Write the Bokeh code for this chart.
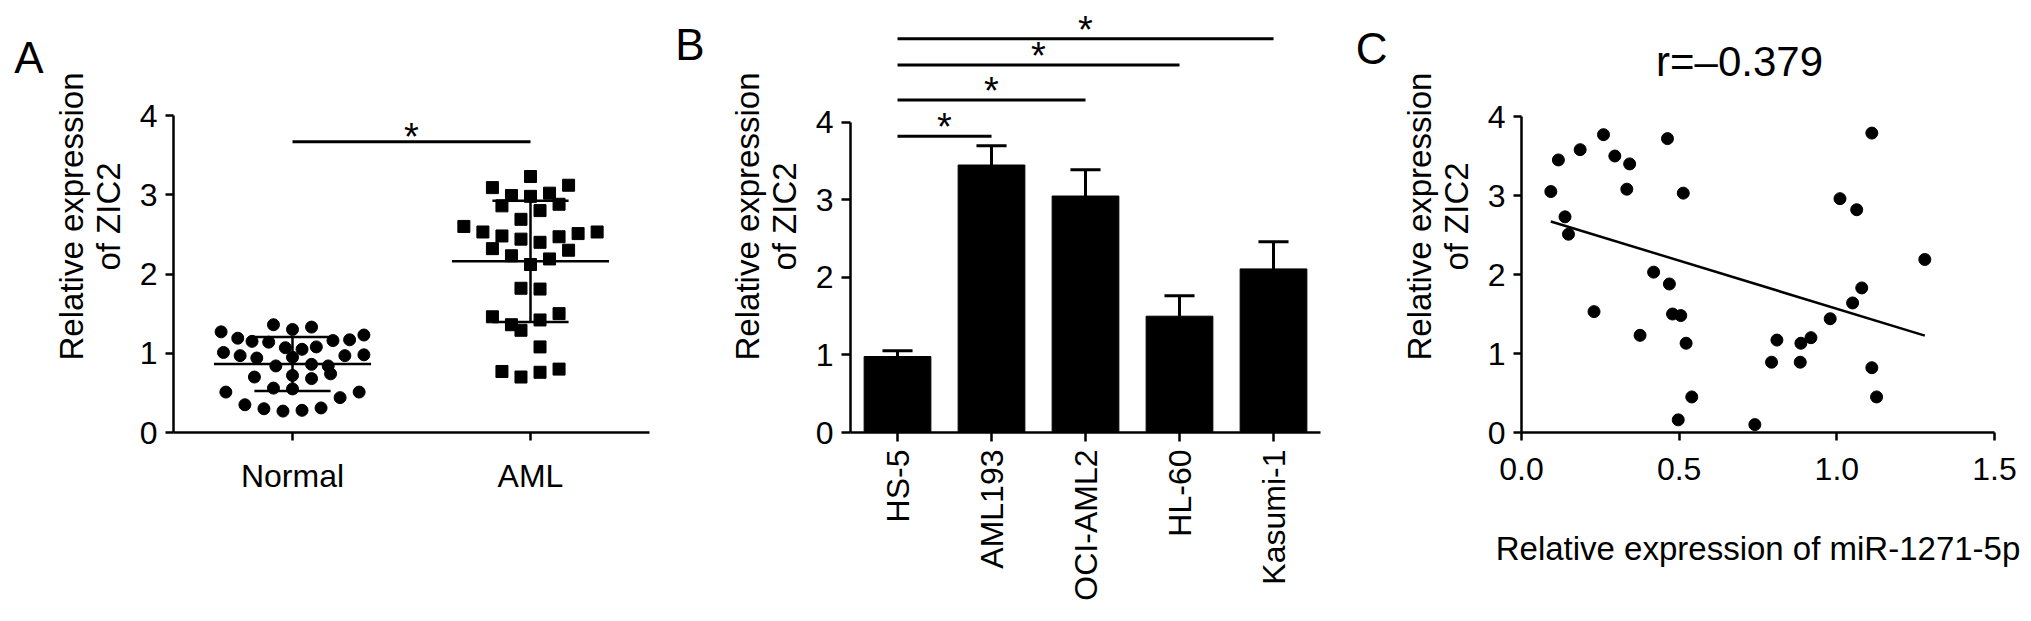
import math
import numpy as np
from bokeh.plotting import figure
from bokeh.layouts import row
from bokeh.models import Range1d, FixedTicker, Label, PrintfTickFormatter, LinearAxis
from bokeh.embed import file_html
from bokeh.resources import INLINE
from bokeh.core.properties import value

FONT = "Liberation Sans"

# ---------------- data: panel A ----------------
groups_a = ["Normal", "AML"]
normal_offset = [-0.30, -0.23, -0.17, -0.10, -0.08, 0.00, 0.08, -0.03, 0.04, 0.10, 0.17, 0.24, 0.30,
                 -0.29, -0.22, -0.15, -0.07, 0.00, 0.08, 0.15, 0.22, 0.30,
                 -0.16, 0.00, 0.08, 0.16, -0.28, -0.08, 0.00, 0.20, 0.28,
                 -0.20, -0.12, -0.04, 0.04, 0.12]
normal_value = [1.27, 1.19, 1.15, 1.14, 1.36, 1.30, 1.33, 1.07, 1.05, 1.08, 1.16, 1.17, 1.23,
                1.01, 0.97, 0.94, 0.84, 0.95, 0.86, 0.84, 0.97, 0.98,
                0.70, 0.72, 0.68, 0.74, 0.51, 0.56, 0.55, 0.44, 0.51,
                0.35, 0.30, 0.27, 0.28, 0.31]
aml_offset = [0.00, -0.16, 0.16, -0.08, 0.00, 0.08, -0.12, 0.12, 0.04, -0.04,
              -0.28, -0.20, -0.12, -0.04, 0.04, 0.12, 0.20, 0.28,
              -0.16, 0.16, -0.08, 0.08, 0.00, -0.04, 0.04,
              -0.16, 0.12, -0.08, 0.04, -0.04, 0.04,
              -0.12, -0.04, 0.04, 0.12]
aml_value = [3.23, 3.09, 3.12, 2.99, 2.98, 3.02, 2.86, 2.88, 2.80, 2.69,
             2.60, 2.53, 2.48, 2.44, 2.40, 2.47, 2.51, 2.53,
             2.32, 2.30, 2.23, 2.19, 2.12, 1.82, 1.81,
             1.46, 1.50, 1.36, 1.42, 1.29, 1.08,
             0.77, 0.70, 0.76, 0.80]
group_mean = [0.865, 2.16]
group_sd = [0.34, 0.765]
sig_a_y = 3.67

# ---------------- data: panel B ----------------
cells = ["HS-5", "AML193", "OCI-AML2", "HL-60", "Kasumi-1"]
cell_mean = [0.98, 3.45, 3.05, 1.50, 2.11]
cell_err = [0.076, 0.247, 0.34, 0.263, 0.35]
sig_b_from = [0, 0, 0, 0]
sig_b_to = [1, 2, 3, 4]
sig_b_y = [3.82, 4.29, 4.74, 5.08]

# ---------------- data: panel C ----------------
mir_x = [0.093, 0.117, 0.138, 0.149, 0.186, 0.260, 0.296, 0.343, 0.334, 0.230, 0.376, 0.419,
         0.463, 0.469, 0.479, 0.505, 0.513, 0.522, 0.540, 0.497, 0.740, 0.793, 0.810, 0.884,
         0.886, 0.918, 0.979, 1.010, 1.050, 1.063, 1.079, 1.111, 1.111, 1.126, 1.279]
zic_y = [3.05, 3.45, 2.73, 2.51, 3.58, 3.77, 3.50, 3.40, 3.08, 1.53, 1.23, 2.03,
         3.72, 1.88, 1.50, 1.48, 3.03, 1.13, 0.45, 0.16, 0.10, 0.89, 1.17, 0.89,
         1.13, 1.20, 1.44, 2.96, 1.64, 2.82, 1.83, 3.79, 0.82, 0.45, 2.19]
fit_slope = -1.219
fit_intercept = 2.785
r_text = "r=\u20130.379"

y_ticks = [0, 1, 2, 3, 4]
c_x_ticks = [0.0, 0.5, 1.0, 1.5]
y_title = "Relative expression\nof ZIC2"
c_x_title = "Relative expression of miR-1271-5p"
panel_letters = ["A", "B", "C"]

# ---------------- layout helpers ----------------
FIG_TOP = 0
FIG_H = 621


def panel(fig_left, fig_w, frame_left, frame_right, x_range, y0_px, y4_px):
    ymax = 4.0 * (y0_px - FIG_TOP) / (y0_px - y4_px)
    p = figure(width=fig_w, height=FIG_H,
               x_range=Range1d(*x_range), y_range=Range1d(0, ymax),
               min_border_left=int(round(frame_left - fig_left)),
               min_border_right=int(round(fig_left + fig_w - frame_right)),
               min_border_top=0,
               min_border_bottom=int(round(FIG_TOP + FIG_H - y0_px)),
               output_backend="svg", toolbar_location=None, tools="")
    p.grid.visible = False
    p.outline_line_color = None
    p.background_fill_color = "white"
    p.border_fill_color = "white"

    def sx(px):
        return px - frame_left

    def sy(py):
        return y0_px - py

    def dy(py):
        return round((y0_px - py) / (y0_px - y4_px) * 4.0, 3)

    for ax in (p.xaxis[0], p.yaxis[0]):
        ax.axis_line_width = 2.5
        ax.axis_line_color = "black"
        ax.major_tick_line_width = 2.5
        ax.major_tick_line_color = "black"
        ax.major_tick_out = 8
        ax.major_tick_in = 0
        ax.minor_tick_line_color = None
        ax.major_label_text_font = FONT
        ax.major_label_text_font_size = "32px"
        ax.major_label_text_color = "black"
        ax.major_label_standoff = 8
        ax.axis_label_text_font = FONT
        ax.axis_label_text_font_size = "33px"
        ax.axis_label_text_font_style = "normal"
        ax.axis_label_text_color = "black"
    p.xaxis[0].major_label_standoff = 17
    yax = p.yaxis[0]
    yax.ticker = FixedTicker(ticks=y_ticks)
    yax.bounds = (0, 4)
    yax.axis_label = y_title
    yax.axis_label_standoff = 10
    yax.axis_label_text_line_height = 1.0
    return p, sx, sy, dy


def panel_letter(p, dy, txt, center_py, standoff):
    # the panel letter is carried by an extra, line-less left axis with a single tick
    yv = dy(center_py)
    ax = LinearAxis(ticker=FixedTicker(ticks=[yv]), major_label_overrides={yv: txt},
                    axis_line_color=None, major_tick_line_color=None, minor_tick_line_color=None,
                    major_tick_out=0, major_tick_in=0, major_label_standoff=standoff,
                    major_label_text_font=FONT, major_label_text_font_size="44px",
                    major_label_text_color="black")
    p.add_layout(ax, "left")


def star(p, x, y, dy):
    p.text(x=x, y=y, text=["*"] * len(x), text_align="center", text_baseline="alphabetic",
           y_offset=dy, text_font=value(FONT), text_font_size="38px", text_color="black")


# ---------------- panel A ----------------
pA, a_sx, a_sy, a_dy = panel(0, 672, 173, 649, (0.5, 2.5), 432, 115)
pA.xaxis[0].ticker = FixedTicker(ticks=[1, 2])
pA.xaxis[0].major_label_overrides = {1: groups_a[0], 2: groups_a[1]}
pA.scatter(x=1 + np.array(normal_offset), y=normal_value, marker="circle", size=12,
           fill_color="black", line_color="black")
pA.scatter(x=2 + np.array(aml_offset), y=aml_value, marker="square", size=12,
           fill_color="black", line_color="black")
xc = np.array([1.0, 2.0])
gm = np.array(group_mean)
gs = np.array(group_sd)
pA.segment(x0=xc - 0.33, x1=xc + 0.33, y0=gm, y1=gm, line_width=2.5, line_color="black")
pA.segment(x0=xc, x1=xc, y0=gm - gs, y1=gm + gs, line_width=2.5, line_color="black")
pA.segment(x0=xc - 0.16, x1=xc + 0.16, y0=gm + gs, y1=gm + gs, line_width=2.5, line_color="black")
pA.segment(x0=xc - 0.16, x1=xc + 0.16, y0=gm - gs, y1=gm - gs, line_width=2.5, line_color="black")
pA.segment(x0=[1.0], x1=[2.0], y0=[sig_a_y], y1=[sig_a_y], line_width=3, line_color="black")
star(pA, [1.5], [sig_a_y], -5)
panel_letter(pA, a_dy, panel_letters[0], 57, 6)

# ---------------- panel B ----------------
pB, b_sx, b_sy, b_dy = panel(672, 658, 846, 1320, (-0.5, 4.5), 436, 123)
idx = np.arange(len(cells))
pB.xaxis[0].ticker = FixedTicker(ticks=list(idx))
pB.xaxis[0].major_label_overrides = {int(i): c for i, c in zip(idx, cells)}
pB.xaxis[0].major_label_orientation = math.pi / 2
pB.xaxis[0].major_label_standoff = 8
pB.xaxis[0].major_tick_out = 9
pB.yaxis[0].major_tick_out = 9
cm = np.array(cell_mean)
ce = np.array(cell_err)
pB.vbar(x=idx, top=cm, width=0.71, fill_color="black", line_color="black")
pB.segment(x0=idx, x1=idx, y0=cm, y1=cm + ce, line_width=3, line_color="black")
pB.segment(x0=idx - 0.16, x1=idx + 0.16, y0=cm + ce, y1=cm + ce, line_width=3, line_color="black")
pB.segment(x0=sig_b_from, x1=sig_b_to, y0=sig_b_y, y1=sig_b_y, line_width=3, line_color="black")
star(pB, [(a + b) / 2 for a, b in zip(sig_b_from, sig_b_to)], sig_b_y, -9)
panel_letter(pB, b_dy, panel_letters[1], 44, 21)

# ---------------- panel C ----------------
pC, c_sx, c_sy, c_dy = panel(1330, 701, 1521, 1994, (0.0, 1.5), 432, 116)
pC.xaxis[0].ticker = FixedTicker(ticks=c_x_ticks)
pC.xaxis[0].formatter = PrintfTickFormatter(format="%.1f")
pC.xaxis[0].axis_label = c_x_title
pC.xaxis[0].axis_label_standoff = 47
pC.scatter(x=mir_x, y=zic_y, marker="circle", size=12, fill_color="black", line_color="black")
fx = np.array([min(mir_x), max(mir_x)])
pC.line(x=fx, y=fit_intercept + fit_slope * fx, line_width=2.5, line_color="black")
panel_letter(pC, c_dy, panel_letters[2], 48, 10)
pC.add_layout(Label(x=c_sx(1739), y=c_sy(61), x_units="screen", y_units="screen", text=r_text,
                    text_font=FONT, text_font_size="42px", text_color="black",
                    text_align="center", text_baseline="alphabetic"))

layout = row(pA, pB, pC)
open("out.html", "w").write(file_html(layout, INLINE))
